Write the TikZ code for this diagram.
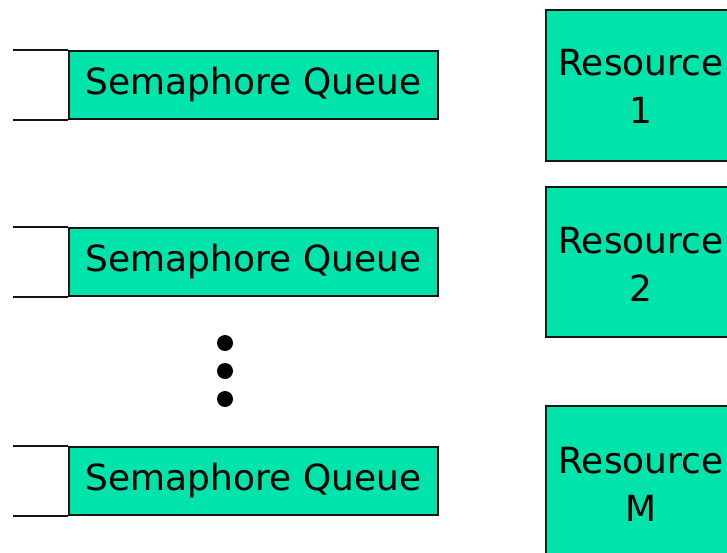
\documentclass[tikz,border=0pt]{standalone}
\usepackage{fontspec}
\setmainfont{DejaVu Sans}
\definecolor{qgreen}{RGB}{0,227,170}
\definecolor{edge}{RGB}{20,20,20}
\begin{document}
\begin{tikzpicture}[x=1pt,y=-1pt,
  queue/.style={draw=edge,line width=2pt,fill=qgreen,minimum width=369pt,minimum height=68pt,inner sep=0pt,anchor=north west,
    font=\fontsize{36}{42}\selectfont},
  resbox/.style={draw=edge,line width=2.2pt,fill=qgreen,minimum width=200pt,inner sep=0pt,anchor=north west},
  restext/.style={align=center,font=\fontsize{36}{48}\selectfont,inner sep=0pt},
  qline/.style={draw=edge,line width=2pt},
  dot/.style={circle,fill=black,minimum size=16pt,inner sep=0pt}]
\useasboundingbox (0,0) rectangle (727,552);
\fill[white] (0,0) rectangle (727,552);
% queues
\node[queue] (q1) at (68,50) {Semaphore Queue};
\node[queue] (q2) at (68,227) {Semaphore Queue};
\node[queue] (q3) at (68,446) {Semaphore Queue};
\foreach \q in {q1,q2,q3}{
  \coordinate (\q tl) at ([xshift=-55pt]\q.north west);
  \coordinate (\q bl) at ([xshift=-55pt]\q.south west);
  \draw[qline] (\q tl) -- (\q.north west);
  \draw[qline] (\q bl) -- (\q.south west);
}
% resources
\node[resbox,minimum height=151pt] (r1) at (545,8.5) {};
\node[resbox,minimum height=150pt] (r2) at (545,186) {};
\node[resbox,minimum height=160pt] (r3) at (545,405) {};
\node[restext,anchor=base] (t1) at (641,123) {Resource\\1};
\node[restext,anchor=base] (t2) at (641,301) {Resource\\2};
\node[restext,anchor=base] (t3) at (641,521) {Resource\\M};
% dots
\node[dot] (d1) at (225,343) {};
\node[dot] (d2) at (225,371) {};
\node[dot] (d3) at (225,399) {};
\end{tikzpicture}
\end{document}
